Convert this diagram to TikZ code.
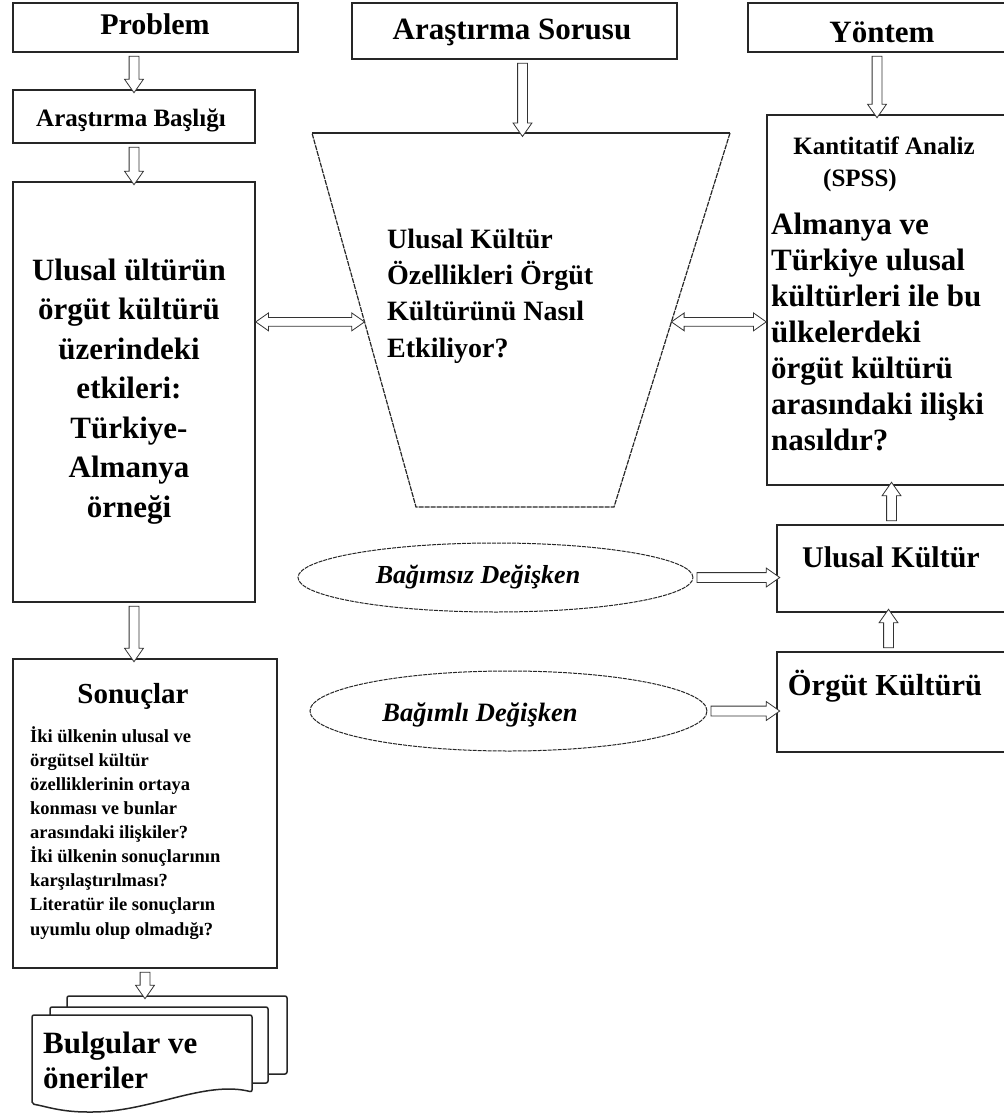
\documentclass[tikz,border=0pt]{standalone}
\usepackage{fontspec}
\setmainfont{Liberation Serif}
\usetikzlibrary{shapes.arrows,shapes.geometric,calc}

\tikzset{
  box/.style={draw=black!85, line width=1.5pt, fill=white, inner sep=0pt},
  txt/.style={inner sep=0pt, align=#1},
  txt/.default=center,
  harrowshape/.style={single arrow, draw=black!80, line width=0.8pt, fill=white,
    inner xsep=0pt, inner ysep=4.5pt, minimum width=0pt,
    single arrow head extend=4.5pt, single arrow tip angle=70,
    single arrow head indent=0pt},
  darrowshape/.style={double arrow, draw=black!80, line width=0.8pt, fill=white,
    inner xsep=0pt, inner ysep=4pt, minimum width=0pt,
    double arrow head extend=4.5pt, double arrow tip angle=70,
    double arrow head indent=0pt},
  oval/.style={ellipse, draw=black!85, line width=1pt, dash pattern=on 4pt off 1pt,
    inner sep=0pt, fill=white},
  funnel/.style={draw=black!85, line width=1.2pt},
  page/.style={draw=black!85, line width=1.5pt, fill=white, rounded corners=2pt}
}

% hollow block arrow between two points
\newcommand\hollowarrow[2]{%
  \path let \p1=(#1), \p2=(#2),
    \n1={atan2(\y2-\y1,\x2-\x1)}, \n2={veclen(\x2-\x1,\y2-\y1)} in
    node[harrowshape, minimum height=\n2, rotate=\n1] at ($(\p1)!0.5!(\p2)$) {};}
% hollow two-headed block arrow
\newcommand\hollowdarrow[2]{%
  \path let \p1=(#1), \p2=(#2),
    \n1={atan2(\y2-\y1,\x2-\x1)}, \n2={veclen(\x2-\x1,\y2-\y1)} in
    node[darrowshape, minimum height=\n2, rotate=\n1] at ($(\p1)!0.5!(\p2)$) {};}

\begin{document}
\begin{tikzpicture}[x=1pt, y=-1pt]
\useasboundingbox (0,0) rectangle (1003,1115);

% ---- left column (multi-line nodes are anchored on their last baseline)
\node[box, minimum width=285pt, minimum height=49pt] (prob) at (155.5,27.5) {};
\node[txt, anchor=base, font=\fontsize{30}{34}\selectfont\bfseries] (probt) at (155,35) {Problem};

\node[box, minimum width=242pt, minimum height=53pt] (baslik) at (134,116.5) {};
\node[txt, anchor=base, font=\fontsize{25}{28}\selectfont\bfseries] (basliks) at (131,127) {Araştırma Başlığı};

\node[box, minimum width=242pt, minimum height=420pt] (leftbig) at (134,392) {};
\node[txt, anchor=base, font=\fontsize{31}{39.5}\selectfont\bfseries] (leftbigt) at (129,517)
  {Ulusal ültürün\\örgüt kültürü\\üzerindeki\\etkileri:\\Türkiye-\\Almanya\\örneği};

\node[box, minimum width=264pt, minimum height=309pt] (sonuc) at (145,813.5) {};
\node[txt, anchor=base, font=\fontsize{29}{32}\selectfont\bfseries] (sonuct) at (133,703) {Sonuçlar};
\node[txt=left, anchor=base west, font=\fontsize{18.5}{24.1}\selectfont\bfseries] (sonucb) at (30,935)
  {İki ülkenin ulusal ve\\örgütsel kültür\\özelliklerinin ortaya\\konması ve bunlar\\arasındaki ilişkiler?\\İki ülkenin sonuçlarının\\karşılaştırılması?\\Literatür ile sonuçların\\uyumlu olup olmadığı?};

% ---- document stack
\node[page, minimum width=220pt, minimum height=78pt] (page3) at (177,1035) {};
\node[page, minimum width=218pt, minimum height=76pt] (page2) at (159,1045) {};
\draw[page] (32,1015) -- (252,1015) -- (252,1092)
  .. controls (205,1080) and (150,1112) .. (90,1112)
  .. controls (60,1112) and (45,1106) .. (32,1104) -- cycle;
\node[txt=left, anchor=base west, font=\fontsize{31}{35}\selectfont\bfseries] (bulg) at (43,1088)
  {Bulgular ve\\öneriler};

% ---- middle column
\node[box, minimum width=325pt, minimum height=56pt] (soru) at (514.5,31) {};
\node[txt, anchor=base, font=\fontsize{31}{34}\selectfont\bfseries] (sorut) at (512,40) {Araştırma Sorusu};

\coordinate (ftl) at (312,133);
\coordinate (ftr) at (730,133);
\coordinate (fbr) at (614,507);
\coordinate (fbl) at (416,507);
\draw[funnel] (ftl) -- (ftr);
\draw[funnel, dash pattern=on 5pt off 1pt] (ftr) -- (fbr) -- (fbl) -- (ftl);
\coordinate (fl) at ($(ftl)!0.505!(fbl)$);
\coordinate (fr) at ($(ftr)!0.505!(fbr)$);
\node[txt=left, anchor=base west, font=\fontsize{28}{36.3}\selectfont\bfseries] (funt) at (387,357)
  {Ulusal Kültür\\Özellikleri Örgüt\\Kültürünü Nasıl\\Etkiliyor?};

\node[oval, minimum width=395pt, minimum height=69pt] (oval1) at (495.5,577.5) {};
\node[txt, anchor=base, font=\fontsize{26}{30}\selectfont\bfseries\itshape] (oval1t) at (478,583) {Bağımsız Değişken};
\node[oval, minimum width=397pt, minimum height=80pt] (oval2) at (508.5,711) {};
\node[txt, anchor=base, font=\fontsize{26.5}{30}\selectfont\bfseries\itshape] (oval2t) at (480,721) {Bağımlı Değişken};

% ---- right column
\node[box, minimum width=258pt, minimum height=49pt] (yontem) at (877,27.5) {};
\node[txt, anchor=base, font=\fontsize{31}{34}\selectfont\bfseries] (yontemt) at (882,43) {Yöntem};

\node[box, minimum width=239pt, minimum height=370pt] (rightbig) at (886.5,300) {};
\node[txt, anchor=base, font=\fontsize{25}{28}\selectfont\bfseries] (kant) at (884,155) {Kantitatif Analiz};
\node[txt, anchor=base, font=\fontsize{25}{28}\selectfont\bfseries] (spss) at (860,187) {(SPSS)};
\node[txt=left, anchor=base west, font=\fontsize{31}{36}\selectfont\bfseries] (rightt) at (771,450)
  {Almanya ve\\Türkiye ulusal\\kültürleri ile bu\\ülkelerdeki\\örgüt kültürü\\arasındaki ilişki\\nasıldır?};

\node[box, minimum width=229pt, minimum height=87pt] (ulusal) at (891.5,568.5) {};
\node[txt, anchor=base, font=\fontsize{30}{34}\selectfont\bfseries] (ulusalt) at (891,567) {Ulusal Kültür};
\node[box, minimum width=229pt, minimum height=100pt] (orgut) at (891.5,702) {};
\node[txt, anchor=base, font=\fontsize{30.5}{34}\selectfont\bfseries] (orgutt) at (885,695) {Örgüt Kültürü};

% ---- connectors
\hollowarrow{baslik.north |- prob.south}{baslik.north}
\hollowarrow{baslik.south}{leftbig.north}
\hollowarrow{leftbig.south}{leftbig.south |- sonuc.north}
\hollowarrow{sonuc.south}{sonuc.south |- page3.north}
\hollowarrow{$(soru.south)+(8,0)$}{$(soru.south |- ftl)+(8,0)$}
\hollowarrow{yontem.south}{yontem.south |- rightbig.north}
\hollowarrow{ulusal.north}{ulusal.north |- rightbig.south}
\hollowarrow{$(orgut.north)+(-3,0)$}{$(orgut.north |- ulusal.south)+(-3,0)$}
\hollowarrow{oval1.east}{oval1.east -| ulusal.west}
\hollowarrow{oval2.east}{oval2.east -| orgut.west}
\hollowdarrow{leftbig.east |- fl}{fl}
\hollowdarrow{fr}{fr -| rightbig.west}
\end{tikzpicture}
\end{document}
